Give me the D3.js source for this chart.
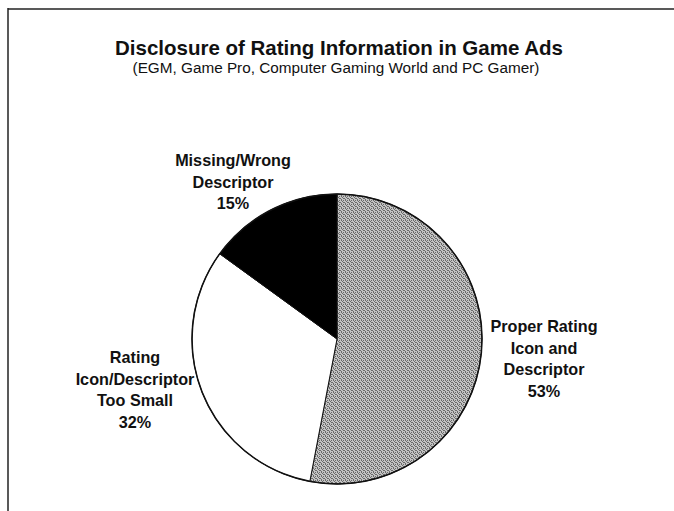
<!DOCTYPE html>
<html lang="en">
  <head>
    <meta charset="utf-8"/>
    <script src="https://d3js.org/d3.v7.min.js"></script>
    <title>Disclosure of Rating Information in Game Ads</title>
  </head>
  <style>
    body { margin: 0; background: #fff; }
    svg text { font-family: "Liberation Sans", Arial, sans-serif; fill: #111; }
  </style>
  <body>
    <svg id="chart"></svg>
  </body>

  <script>
    const width = 674;
    const height = 511;

    const categories = ["Proper Rating Icon and Descriptor", "Rating Icon/Descriptor Too Small", "Missing/Wrong Descriptor"];
    const shares = [53, 32, 15];
    const labelLines = [
      ["Proper Rating", "Icon and", "Descriptor", "53%"],
      ["Rating", "Icon/Descriptor", "Too Small", "32%"],
      ["Missing/Wrong", "Descriptor", "15%"]
    ];
    const fills = ["url(#stipple)", "#ffffff", "#000000"];

    const cx = 337, cy = 339, radius = 145;

    const svg = d3.select("#chart")
      .attr("width", width)
      .attr("height", height);

    // dithered gray texture for the big slice
    const pat = svg.append("defs").append("pattern")
      .attr("id", "stipple")
      .attr("patternUnits", "userSpaceOnUse")
      .attr("width", 4).attr("height", 4);
    pat.append("rect").attr("width", 4).attr("height", 4).attr("fill", "#c4c4c4");
    [[0, 0], [2, 1], [1, 2], [3, 3], [2, 3], [0, 1]].forEach(p => {
      pat.append("rect").attr("x", p[0]).attr("y", p[1])
        .attr("width", 1).attr("height", 1).attr("fill", "#6a6a6a");
    });

    // frame (top + left edge only, like the scan)
    svg.append("line")
      .attr("x1", 8).attr("y1", 9).attr("x2", width).attr("y2", 9)
      .attr("stroke", "#222").attr("stroke-width", 1.5);
    svg.append("line")
      .attr("x1", 8).attr("y1", 8).attr("x2", 8).attr("y2", height)
      .attr("stroke", "#222").attr("stroke-width", 1.5);

    svg.append("text")
      .attr("x", 339).attr("y", 55)
      .attr("text-anchor", "middle")
      .style("font-size", "20.5px").style("font-weight", "bold")
      .text("Disclosure of Rating Information in Game Ads");

    svg.append("text")
      .attr("x", 336).attr("y", 73)
      .attr("text-anchor", "middle")
      .style("font-size", "15.3px")
      .text("(EGM, Game Pro, Computer Gaming World and PC Gamer)");

    const pie = d3.pie().sort(null).value(d => d);
    const arc = d3.arc().innerRadius(0).outerRadius(radius);

    const g = svg.append("g").attr("transform", "translate(" + cx + "," + cy + ")");

    g.selectAll("path")
      .data(pie(shares))
      .enter()
      .append("path")
      .attr("d", arc)
      .attr("fill", (d, i) => fills[i])
      .attr("stroke", "#111")
      .attr("stroke-width", 1);

    g.append("circle")
      .attr("r", radius)
      .attr("fill", "none")
      .attr("stroke", "#111")
      .attr("stroke-width", 1.5);

    // label anchors (centre of first line baseline)
    const labelPos = [[544, 332], [135, 363], [233, 166]];
    const lineGap = 21.5;

    labelLines.forEach((lines, i) => {
      const t = svg.append("text")
        .attr("text-anchor", "middle")
        .style("font-size", "16.2px").style("font-weight", "bold");
      lines.forEach((s, j) => {
        t.append("tspan")
          .attr("x", labelPos[i][0])
          .attr("y", labelPos[i][1] + j * lineGap)
          .text(s);
      });
    });
  </script>
</html>
